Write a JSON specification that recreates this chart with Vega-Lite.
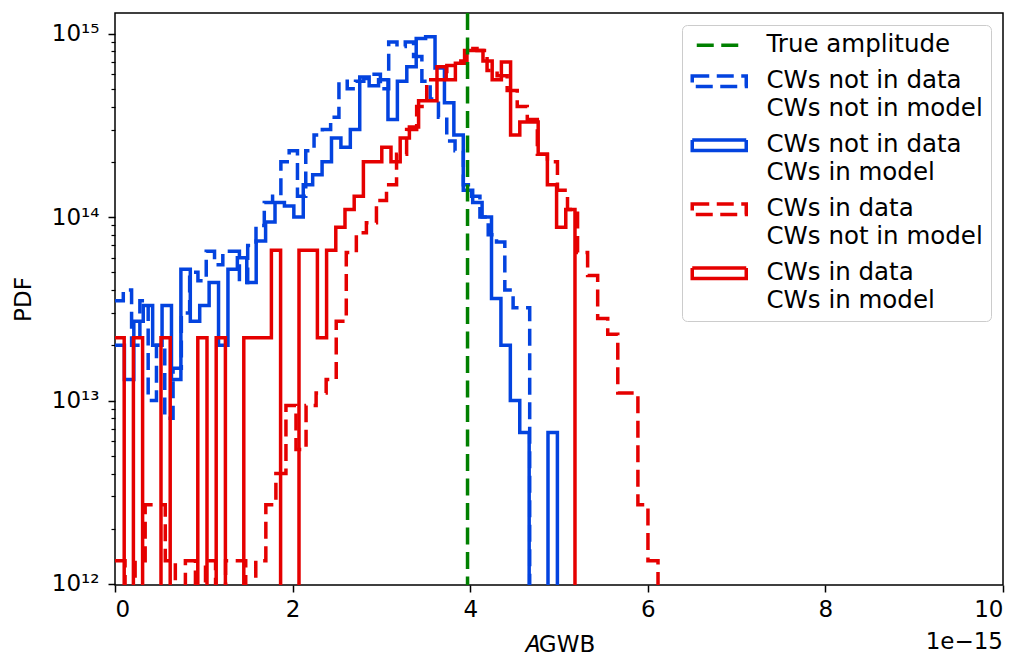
{
  "$schema": "https://vega.github.io/schema/vega-lite/v6.json",
  "width": 888,
  "height": 572,
  "autosize": {"type": "none"},
  "padding": {"left": 115, "top": 13, "right": 17, "bottom": 73},
  "background": "white",
  "config": {
    "view": {"stroke": "black", "strokeWidth": 1.5},
    "font": "DejaVu Sans",
    "axis": {"labelFont": "DejaVu Sans", "titleFont": "DejaVu Sans", "labelColor": "black", "titleColor": "black", "tickColor": "black", "domain": false, "grid": false, "labelFontSize": 23, "titleFontSize": 23, "titleFontWeight": "normal"}
  },
  "title": {"text": "1e−15", "orient": "bottom", "anchor": "end", "frame": "group", "fontSize": 23, "fontWeight": "normal", "font": "DejaVu Sans", "color": "black", "offset": -25},
  "datasets": {
    "truth": [{"series": "True amplitude", "A": 3.97}],
    "hist": [
      {"series": "CWs not in data|CWs not in model", "A": 0, "pdf": 3.5e13},
      {"series": "CWs not in data|CWs not in model", "A": 0.0934, "pdf": 4.0e13},
      {"series": "CWs not in data|CWs not in model", "A": 0.1868, "pdf": 2.0e13},
      {"series": "CWs not in data|CWs not in model", "A": 0.2802, "pdf": 3.5e13},
      {"series": "CWs not in data|CWs not in model", "A": 0.3736, "pdf": 1.0e13},
      {"series": "CWs not in data|CWs not in model", "A": 0.467, "pdf": 2.0e13},
      {"series": "CWs not in data|CWs not in model", "A": 0.5604, "pdf": 8e12},
      {"series": "CWs not in data|CWs not in model", "A": 0.6538, "pdf": 1.5e13},
      {"series": "CWs not in data|CWs not in model", "A": 0.7472, "pdf": 3.0e13},
      {"series": "CWs not in data|CWs not in model", "A": 0.8406, "pdf": 5.0e13},
      {"series": "CWs not in data|CWs not in model", "A": 0.934, "pdf": 4.5e13},
      {"series": "CWs not in data|CWs not in model", "A": 1.0274, "pdf": 6.5e13},
      {"series": "CWs not in data|CWs not in model", "A": 1.1208, "pdf": 5.5e13},
      {"series": "CWs not in data|CWs not in model", "A": 1.2142, "pdf": 6.5e13},
      {"series": "CWs not in data|CWs not in model", "A": 1.3076, "pdf": 6.5e13},
      {"series": "CWs not in data|CWs not in model", "A": 1.401, "pdf": 4.4e13},
      {"series": "CWs not in data|CWs not in model", "A": 1.4944, "pdf": 7.0e13},
      {"series": "CWs not in data|CWs not in model", "A": 1.5878, "pdf": 9.0e13},
      {"series": "CWs not in data|CWs not in model", "A": 1.6812, "pdf": 1.2e14},
      {"series": "CWs not in data|CWs not in model", "A": 1.7746, "pdf": 1.3e14},
      {"series": "CWs not in data|CWs not in model", "A": 1.868, "pdf": 2.0e14},
      {"series": "CWs not in data|CWs not in model", "A": 1.9614, "pdf": 2.3e14},
      {"series": "CWs not in data|CWs not in model", "A": 2.0548, "pdf": 1.3e14},
      {"series": "CWs not in data|CWs not in model", "A": 2.1482, "pdf": 2.3e14},
      {"series": "CWs not in data|CWs not in model", "A": 2.2416, "pdf": 2.8e14},
      {"series": "CWs not in data|CWs not in model", "A": 2.335, "pdf": 3.0e14},
      {"series": "CWs not in data|CWs not in model", "A": 2.4284, "pdf": 3.5e14},
      {"series": "CWs not in data|CWs not in model", "A": 2.5218, "pdf": 5.5e14},
      {"series": "CWs not in data|CWs not in model", "A": 2.6152, "pdf": 5.0e14},
      {"series": "CWs not in data|CWs not in model", "A": 2.7086, "pdf": 5.5e14},
      {"series": "CWs not in data|CWs not in model", "A": 2.802, "pdf": 5.7e14},
      {"series": "CWs not in data|CWs not in model", "A": 2.8954, "pdf": 6.0e14},
      {"series": "CWs not in data|CWs not in model", "A": 2.9888, "pdf": 5.0e14},
      {"series": "CWs not in data|CWs not in model", "A": 3.0822, "pdf": 9.0e14},
      {"series": "CWs not in data|CWs not in model", "A": 3.1756, "pdf": 8.5e14},
      {"series": "CWs not in data|CWs not in model", "A": 3.269, "pdf": 9.0e14},
      {"series": "CWs not in data|CWs not in model", "A": 3.3624, "pdf": 7.5e14},
      {"series": "CWs not in data|CWs not in model", "A": 3.4558, "pdf": 5.5e14},
      {"series": "CWs not in data|CWs not in model", "A": 3.5492, "pdf": 4.4e14},
      {"series": "CWs not in data|CWs not in model", "A": 3.6426, "pdf": 3.5e14},
      {"series": "CWs not in data|CWs not in model", "A": 3.736, "pdf": 2.6e14},
      {"series": "CWs not in data|CWs not in model", "A": 3.8294, "pdf": 2.3e14},
      {"series": "CWs not in data|CWs not in model", "A": 3.9228, "pdf": 1.5e14},
      {"series": "CWs not in data|CWs not in model", "A": 4.0162, "pdf": 1.3e14},
      {"series": "CWs not in data|CWs not in model", "A": 4.1096, "pdf": 1.0e14},
      {"series": "CWs not in data|CWs not in model", "A": 4.203, "pdf": 8.0e13},
      {"series": "CWs not in data|CWs not in model", "A": 4.2964, "pdf": 7.3e13},
      {"series": "CWs not in data|CWs not in model", "A": 4.3898, "pdf": 4.0e13},
      {"series": "CWs not in data|CWs not in model", "A": 4.4832, "pdf": 3.2e13},
      {"series": "CWs not in data|CWs not in model", "A": 4.5766, "pdf": 3.2e13},
      {"series": "CWs not in data|CWs not in model", "A": 4.67, "pdf": 1e11},

      {"series": "CWs not in data|CWs in model", "A": 0, "pdf": 2.0e13},
      {"series": "CWs not in data|CWs in model", "A": 0.106, "pdf": 1.3e13},
      {"series": "CWs not in data|CWs in model", "A": 0.212, "pdf": 2.7e13},
      {"series": "CWs not in data|CWs in model", "A": 0.318, "pdf": 3.3e13},
      {"series": "CWs not in data|CWs in model", "A": 0.424, "pdf": 2.0e13},
      {"series": "CWs not in data|CWs in model", "A": 0.53, "pdf": 3.3e13},
      {"series": "CWs not in data|CWs in model", "A": 0.636, "pdf": 1.3e13},
      {"series": "CWs not in data|CWs in model", "A": 0.742, "pdf": 5.2e13},
      {"series": "CWs not in data|CWs in model", "A": 0.848, "pdf": 2.7e13},
      {"series": "CWs not in data|CWs in model", "A": 0.954, "pdf": 3.3e13},
      {"series": "CWs not in data|CWs in model", "A": 1.06, "pdf": 4.4e13},
      {"series": "CWs not in data|CWs in model", "A": 1.166, "pdf": 2.0e13},
      {"series": "CWs not in data|CWs in model", "A": 1.272, "pdf": 5.2e13},
      {"series": "CWs not in data|CWs in model", "A": 1.378, "pdf": 6.0e13},
      {"series": "CWs not in data|CWs in model", "A": 1.484, "pdf": 4.4e13},
      {"series": "CWs not in data|CWs in model", "A": 1.59, "pdf": 7.4e13},
      {"series": "CWs not in data|CWs in model", "A": 1.696, "pdf": 9.4e13},
      {"series": "CWs not in data|CWs in model", "A": 1.802, "pdf": 1.2e14},
      {"series": "CWs not in data|CWs in model", "A": 1.908, "pdf": 1.15e14},
      {"series": "CWs not in data|CWs in model", "A": 2.014, "pdf": 1.0e14},
      {"series": "CWs not in data|CWs in model", "A": 2.12, "pdf": 1.5e14},
      {"series": "CWs not in data|CWs in model", "A": 2.226, "pdf": 1.7e14},
      {"series": "CWs not in data|CWs in model", "A": 2.332, "pdf": 2.0e14},
      {"series": "CWs not in data|CWs in model", "A": 2.438, "pdf": 2.7e14},
      {"series": "CWs not in data|CWs in model", "A": 2.544, "pdf": 2.4e14},
      {"series": "CWs not in data|CWs in model", "A": 2.65, "pdf": 3.0e14},
      {"series": "CWs not in data|CWs in model", "A": 2.756, "pdf": 5.8e14},
      {"series": "CWs not in data|CWs in model", "A": 2.862, "pdf": 5.2e14},
      {"series": "CWs not in data|CWs in model", "A": 2.968, "pdf": 5.6e14},
      {"series": "CWs not in data|CWs in model", "A": 3.074, "pdf": 3.4e14},
      {"series": "CWs not in data|CWs in model", "A": 3.18, "pdf": 5.5e14},
      {"series": "CWs not in data|CWs in model", "A": 3.286, "pdf": 6.6e14},
      {"series": "CWs not in data|CWs in model", "A": 3.392, "pdf": 9.4e14},
      {"series": "CWs not in data|CWs in model", "A": 3.498, "pdf": 9.6e14},
      {"series": "CWs not in data|CWs in model", "A": 3.604, "pdf": 6.5e14},
      {"series": "CWs not in data|CWs in model", "A": 3.71, "pdf": 4.2e14},
      {"series": "CWs not in data|CWs in model", "A": 3.816, "pdf": 2.8e14},
      {"series": "CWs not in data|CWs in model", "A": 3.922, "pdf": 1.4e14},
      {"series": "CWs not in data|CWs in model", "A": 4.028, "pdf": 1.2e14},
      {"series": "CWs not in data|CWs in model", "A": 4.134, "pdf": 1.0e14},
      {"series": "CWs not in data|CWs in model", "A": 4.24, "pdf": 3.6e13},
      {"series": "CWs not in data|CWs in model", "A": 4.346, "pdf": 2.0e13},
      {"series": "CWs not in data|CWs in model", "A": 4.452, "pdf": 1.0e13},
      {"series": "CWs not in data|CWs in model", "A": 4.558, "pdf": 6.7e12},
      {"series": "CWs not in data|CWs in model", "A": 4.664, "pdf": 1e11},
      {"series": "CWs not in data|CWs in model", "A": 4.876, "pdf": 6.7e12},
      {"series": "CWs not in data|CWs in model", "A": 4.982, "pdf": 1e11},

      {"series": "CWs in data|CWs not in model", "A": 0, "pdf": 1.34e12},
      {"series": "CWs in data|CWs not in model", "A": 0.1132, "pdf": 1e11},
      {"series": "CWs in data|CWs not in model", "A": 0.2265, "pdf": 1.34e12},
      {"series": "CWs in data|CWs not in model", "A": 0.3397, "pdf": 2.7e12},
      {"series": "CWs in data|CWs not in model", "A": 0.453, "pdf": 2.7e12},
      {"series": "CWs in data|CWs not in model", "A": 0.5662, "pdf": 1.34e12},
      {"series": "CWs in data|CWs not in model", "A": 0.6794, "pdf": 1e11},
      {"series": "CWs in data|CWs not in model", "A": 0.7927, "pdf": 1.34e12},
      {"series": "CWs in data|CWs not in model", "A": 0.9059, "pdf": 1e11},
      {"series": "CWs in data|CWs not in model", "A": 1.0192, "pdf": 1.34e12},
      {"series": "CWs in data|CWs not in model", "A": 1.1324, "pdf": 1e11},
      {"series": "CWs in data|CWs not in model", "A": 1.2456, "pdf": 1.34e12},
      {"series": "CWs in data|CWs not in model", "A": 1.3589, "pdf": 1.34e12},
      {"series": "CWs in data|CWs not in model", "A": 1.4721, "pdf": 1e11},
      {"series": "CWs in data|CWs not in model", "A": 1.5854, "pdf": 1.34e12},
      {"series": "CWs in data|CWs not in model", "A": 1.6986, "pdf": 2.7e12},
      {"series": "CWs in data|CWs not in model", "A": 1.8118, "pdf": 4.0e12},
      {"series": "CWs in data|CWs not in model", "A": 1.9251, "pdf": 9.4e12},
      {"series": "CWs in data|CWs not in model", "A": 2.0383, "pdf": 5.4e12},
      {"series": "CWs in data|CWs not in model", "A": 2.1516, "pdf": 9.4e12},
      {"series": "CWs in data|CWs not in model", "A": 2.2648, "pdf": 1.1e13},
      {"series": "CWs in data|CWs not in model", "A": 2.378, "pdf": 1.3e13},
      {"series": "CWs in data|CWs not in model", "A": 2.4913, "pdf": 2.7e13},
      {"series": "CWs in data|CWs not in model", "A": 2.6045, "pdf": 6.4e13},
      {"series": "CWs in data|CWs not in model", "A": 2.7178, "pdf": 8.2e13},
      {"series": "CWs in data|CWs not in model", "A": 2.831, "pdf": 9.3e13},
      {"series": "CWs in data|CWs not in model", "A": 2.9442, "pdf": 1.23e14},
      {"series": "CWs in data|CWs not in model", "A": 3.0575, "pdf": 1.5e14},
      {"series": "CWs in data|CWs not in model", "A": 3.1707, "pdf": 2.2e14},
      {"series": "CWs in data|CWs not in model", "A": 3.284, "pdf": 3.0e14},
      {"series": "CWs in data|CWs not in model", "A": 3.3972, "pdf": 4.0e14},
      {"series": "CWs in data|CWs not in model", "A": 3.5104, "pdf": 5.6e14},
      {"series": "CWs in data|CWs not in model", "A": 3.6237, "pdf": 5.6e14},
      {"series": "CWs in data|CWs not in model", "A": 3.7369, "pdf": 6.7e14},
      {"series": "CWs in data|CWs not in model", "A": 3.8502, "pdf": 7.1e14},
      {"series": "CWs in data|CWs not in model", "A": 3.9634, "pdf": 8.3e14},
      {"series": "CWs in data|CWs not in model", "A": 4.0766, "pdf": 8.1e14},
      {"series": "CWs in data|CWs not in model", "A": 4.1899, "pdf": 6.3e14},
      {"series": "CWs in data|CWs not in model", "A": 4.3031, "pdf": 5.9e14},
      {"series": "CWs in data|CWs not in model", "A": 4.4164, "pdf": 4.9e14},
      {"series": "CWs in data|CWs not in model", "A": 4.5296, "pdf": 4.0e14},
      {"series": "CWs in data|CWs not in model", "A": 4.6428, "pdf": 3.4e14},
      {"series": "CWs in data|CWs not in model", "A": 4.7561, "pdf": 2.2e14},
      {"series": "CWs in data|CWs not in model", "A": 4.8693, "pdf": 2.0e14},
      {"series": "CWs in data|CWs not in model", "A": 4.9826, "pdf": 1.4e14},
      {"series": "CWs in data|CWs not in model", "A": 5.0958, "pdf": 1.1e14},
      {"series": "CWs in data|CWs not in model", "A": 5.209, "pdf": 6.4e13},
      {"series": "CWs in data|CWs not in model", "A": 5.3223, "pdf": 4.8e13},
      {"series": "CWs in data|CWs not in model", "A": 5.4355, "pdf": 2.8e13},
      {"series": "CWs in data|CWs not in model", "A": 5.5488, "pdf": 2.3e13},
      {"series": "CWs in data|CWs not in model", "A": 5.662, "pdf": 1.1e13},
      {"series": "CWs in data|CWs not in model", "A": 5.7752, "pdf": 1.1e13},
      {"series": "CWs in data|CWs not in model", "A": 5.8885, "pdf": 2.7e12},
      {"series": "CWs in data|CWs not in model", "A": 6.0017, "pdf": 1.34e12},
      {"series": "CWs in data|CWs not in model", "A": 6.115, "pdf": 1e11},

      {"series": "CWs in data|CWs in model", "A": 0, "pdf": 2.2e13},
      {"series": "CWs in data|CWs in model", "A": 0.1036, "pdf": 1e11},
      {"series": "CWs in data|CWs in model", "A": 0.2072, "pdf": 2.2e13},
      {"series": "CWs in data|CWs in model", "A": 0.3108, "pdf": 1e11},
      {"series": "CWs in data|CWs in model", "A": 0.518, "pdf": 2.2e13},
      {"series": "CWs in data|CWs in model", "A": 0.6216, "pdf": 1e11},
      {"series": "CWs in data|CWs in model", "A": 0.9324, "pdf": 2.2e13},
      {"series": "CWs in data|CWs in model", "A": 1.036, "pdf": 1e11},
      {"series": "CWs in data|CWs in model", "A": 1.1396, "pdf": 2.2e13},
      {"series": "CWs in data|CWs in model", "A": 1.2432, "pdf": 1e11},
      {"series": "CWs in data|CWs in model", "A": 1.4504, "pdf": 2.2e13},
      {"series": "CWs in data|CWs in model", "A": 1.554, "pdf": 2.2e13},
      {"series": "CWs in data|CWs in model", "A": 1.6576, "pdf": 2.2e13},
      {"series": "CWs in data|CWs in model", "A": 1.7612, "pdf": 6.6e13},
      {"series": "CWs in data|CWs in model", "A": 1.8648, "pdf": 1e11},
      {"series": "CWs in data|CWs in model", "A": 2.072, "pdf": 6.6e13},
      {"series": "CWs in data|CWs in model", "A": 2.1756, "pdf": 6.6e13},
      {"series": "CWs in data|CWs in model", "A": 2.2792, "pdf": 2.2e13},
      {"series": "CWs in data|CWs in model", "A": 2.3828, "pdf": 6.6e13},
      {"series": "CWs in data|CWs in model", "A": 2.4864, "pdf": 8.8e13},
      {"series": "CWs in data|CWs in model", "A": 2.59, "pdf": 1.1e14},
      {"series": "CWs in data|CWs in model", "A": 2.6936, "pdf": 1.3e14},
      {"series": "CWs in data|CWs in model", "A": 2.7972, "pdf": 2.0e14},
      {"series": "CWs in data|CWs in model", "A": 2.9008, "pdf": 2.0e14},
      {"series": "CWs in data|CWs in model", "A": 3.0044, "pdf": 2.4e14},
      {"series": "CWs in data|CWs in model", "A": 3.108, "pdf": 2.0e14},
      {"series": "CWs in data|CWs in model", "A": 3.2116, "pdf": 2.7e14},
      {"series": "CWs in data|CWs in model", "A": 3.3152, "pdf": 3.1e14},
      {"series": "CWs in data|CWs in model", "A": 3.4188, "pdf": 4.3e14},
      {"series": "CWs in data|CWs in model", "A": 3.5224, "pdf": 4.3e14},
      {"series": "CWs in data|CWs in model", "A": 3.626, "pdf": 6.6e14},
      {"series": "CWs in data|CWs in model", "A": 3.7296, "pdf": 5.6e14},
      {"series": "CWs in data|CWs in model", "A": 3.8332, "pdf": 6.9e14},
      {"series": "CWs in data|CWs in model", "A": 3.9368, "pdf": 8.1e14},
      {"series": "CWs in data|CWs in model", "A": 4.0404, "pdf": 8.1e14},
      {"series": "CWs in data|CWs in model", "A": 4.144, "pdf": 7.1e14},
      {"series": "CWs in data|CWs in model", "A": 4.2476, "pdf": 5.6e14},
      {"series": "CWs in data|CWs in model", "A": 4.3512, "pdf": 7.0e14},
      {"series": "CWs in data|CWs in model", "A": 4.4548, "pdf": 2.8e14},
      {"series": "CWs in data|CWs in model", "A": 4.5584, "pdf": 3.3e14},
      {"series": "CWs in data|CWs in model", "A": 4.662, "pdf": 3.3e14},
      {"series": "CWs in data|CWs in model", "A": 4.7656, "pdf": 2.2e14},
      {"series": "CWs in data|CWs in model", "A": 4.8692, "pdf": 1.5e14},
      {"series": "CWs in data|CWs in model", "A": 4.9728, "pdf": 8.8e13},
      {"series": "CWs in data|CWs in model", "A": 5.0764, "pdf": 1.1e14},
      {"series": "CWs in data|CWs in model", "A": 5.18, "pdf": 1e11}
    ]
  },
  "layer": [
    {
      "data": {"name": "hist"},
      "mark": {"type": "line", "interpolate": "step-after", "strokeWidth": 3.5, "clip": true},
      "encoding": {
        "x": {"field": "A", "type": "quantitative", "scale": {"domain": [0, 10], "nice": false, "zero": false},
              "axis": {"values": [0, 2, 4, 6, 8, 10], "format": "d", "title": "𝐴GWB", "tickSize": 7, "tickWidth": 1.5, "labelPadding": 6, "titlePadding": 12}},
        "y": {"field": "pdf", "type": "quantitative",
              "scale": {"type": "log", "domain": [9.87e11, 1.295e15], "nice": false},
              "axis": {"values": [1e12, 2e12, 3e12, 4e12, 5e12, 6e12, 7e12, 8e12, 9e12, 1e13, 2e13, 3e13, 4e13, 5e13, 6e13, 7e13, 8e13, 9e13, 1e14, 2e14, 3e14, 4e14, 5e14, 6e14, 7e14, 8e14, 9e14, 1e15],
                       "labelExpr": "datum.value == 1e15 ? '10¹⁵' : datum.value == 1e14 ? '10¹⁴' : datum.value == 1e13 ? '10¹³' : datum.value == 1e12 ? '10¹²' : ''",
                       "tickSize": {"condition": {"test": "datum.value == 1e12 || datum.value == 1e13 || datum.value == 1e14 || datum.value == 1e15", "value": 7}, "value": 4},
                       "tickWidth": {"condition": {"test": "datum.value == 1e12 || datum.value == 1e13 || datum.value == 1e14 || datum.value == 1e15", "value": 1.5}, "value": 1.2},
                       "labelOverlap": false, "labelPadding": 9, "title": "PDF", "titlePadding": 16}},
        "color": {"field": "series", "type": "nominal",
                  "scale": {"domain": ["True amplitude", "CWs not in data|CWs not in model", "CWs not in data|CWs in model", "CWs in data|CWs not in model", "CWs in data|CWs in model"],
                            "range": ["#008000", "#0343df", "#0343df", "#e50000", "#e50000"]},
                  "legend": {"title": null, "orient": "top-right", "offset": 12, "padding": 8,
                             "strokeColor": "#cccccc", "fillColor": "white", "cornerRadius": 5,
                             "labelFont": "DejaVu Sans", "labelFontSize": 24.5, "labelColor": "black", "labelLimit": 400,
                             "labelExpr": "split(datum.label, '|')", "labelOffset": 52, "rowPadding": 11,
                             "symbolSize": 100, "symbolStrokeWidth": 3.5,
                             "encode": {"symbols": {"update": {"shape": {"signal": "datum.value === 'True amplitude' ? 'M-1.1,0H7.9' : 'M-2,-1.05H8.8V1.05H-2Z'"}, "fill": {"value": "transparent"}}},
                                        "labels": {"update": {"lineHeight": {"value": 28}}}}}},
        "strokeDash": {"field": "series", "type": "nominal",
                       "scale": {"domain": ["True amplitude", "CWs not in data|CWs not in model", "CWs not in data|CWs in model", "CWs in data|CWs not in model", "CWs in data|CWs in model"],
                                 "range": [[17, 7.5], [17, 7.5], [1, 0], [17, 7.5], [1, 0]]},
                       "legend": {"title": null}}
      }
    },
    {
      "data": {"name": "truth"},
      "mark": {"type": "rule", "strokeWidth": 3.5},
      "encoding": {
        "x": {"field": "A", "type": "quantitative"},
        "color": {"field": "series", "type": "nominal"},
        "strokeDash": {"field": "series", "type": "nominal"}
      }
    }
  ]
}
